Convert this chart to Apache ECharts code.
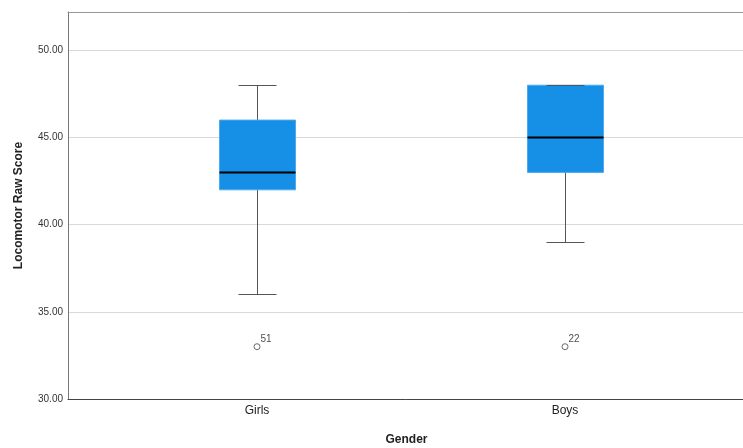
<!DOCTYPE html>
<html>
<head>
<meta charset="utf-8">
<script src="https://cdn.jsdelivr.net/npm/echarts@6/dist/echarts.min.js"></script>
<style>html,body{margin:0;padding:0;background:#fff;}#c{width:743px;height:448px;}</style>
</head>
<body>
<div id="c"></div>
<script>
const categories = ['Girls', 'Boys'];
const mins = [36, 39];
const q1s = [42, 43];
const medians = [43, 45];
const q3s = [46, 48];
const maxs = [48, 48];
const outlierValues = [33, 33];
const outlierLabels = ['51', '22'];
const yMin = 30, yMax = 52.2, yStep = 5;

const FONT = "'Liberation Sans', Arial, sans-serif";
const boxData = categories.map((c, i) => [i, mins[i], q1s[i], medians[i], q3s[i], maxs[i]]);
const outData = categories.map((c, i) => [i, outlierValues[i], outlierLabels[i]]);

const chart = echarts.init(document.getElementById('c'));
chart.setOption({
  animation: false,
  textStyle: { fontFamily: FONT },
  grid: [
    { left: 68, right: -2, top: 12, bottom: 49, outerBoundsMode: 'none', containLabel: false },
    { left: 103, right: 24, top: 12, bottom: 49, outerBoundsMode: 'none', containLabel: false }
  ],
  xAxis: [
    { gridIndex: 0, type: 'value', min: 0, max: 1, position: 'bottom',
      axisLine: { show: true, lineStyle: { color: '#444', width: 1 } },
      axisTick: { show: false }, axisLabel: { show: false }, splitLine: { show: false },
      name: 'Gender', nameLocation: 'middle', nameGap: 35,
      nameTextStyle: { fontSize: 12, fontWeight: 'bold', color: '#222', fontFamily: FONT } },
    { gridIndex: 0, type: 'value', min: 0, max: 1, position: 'top',
      axisLine: { show: true, lineStyle: { color: '#999', width: 1 } },
      axisTick: { show: false }, axisLabel: { show: false }, splitLine: { show: false } },
    { gridIndex: 1, type: 'category', data: categories, position: 'bottom',
      axisLine: { show: false }, axisTick: { show: false },
      axisLabel: { fontSize: 12, color: '#222', margin: 6, fontFamily: FONT } }
  ],
  yAxis: [
    { gridIndex: 0, type: 'value', min: yMin, max: yMax, interval: yStep,
      axisLine: { show: true, lineStyle: { color: '#777', width: 1 } },
      axisTick: { show: false },
      axisLabel: { fontSize: 10, color: '#333', margin: 5, showMaxLabel: false,
        formatter: v => v.toFixed(2), fontFamily: FONT },
      splitLine: { show: true, lineStyle: { color: '#d9d9d9', width: 1 } },
      name: 'Locomotor Raw Score', nameLocation: 'middle', nameGap: 43,
      nameTextStyle: { fontSize: 12, fontWeight: 'bold', color: '#222', fontFamily: FONT } },
    { gridIndex: 1, type: 'value', min: yMin, max: yMax, interval: yStep,
      axisLine: { show: false }, axisTick: { show: false }, axisLabel: { show: false },
      splitLine: { show: false } }
  ],
  series: [
    {
      type: 'custom', xAxisIndex: 2, yAxisIndex: 1,
      data: boxData,
      encode: { x: 0, y: [1, 2, 3, 4, 5] },
      renderItem: function (params, api) {
        const i = api.value(0);
        const py = v => api.coord([i, v])[1];
        const x = Math.round(api.coord([i, api.value(1)])[0]) + 0.5;
        const yMn = Math.round(py(api.value(1))) + 0.5;
        const yQ1 = py(api.value(2));
        const yMd = py(api.value(3));
        const yQ3 = py(api.value(4));
        const yMx = Math.round(py(api.value(5))) + 0.5;
        const hw = 38, cw = 19;
        const ws = { stroke: '#555', lineWidth: 1 };
        return {
          type: 'group',
          children: [
            { type: 'line', shape: { x1: x, y1: yQ3, x2: x, y2: yMx }, style: ws },
            { type: 'line', shape: { x1: x, y1: yQ1, x2: x, y2: yMn }, style: ws },
            { type: 'rect', shape: { x: x - hw, y: yQ3, width: 2 * hw, height: yQ1 - yQ3 },
              style: { fill: '#1590e6', stroke: '#4ea9ee', lineWidth: 1 } },
            { type: 'line', shape: { x1: x - hw, y1: yMd, x2: x + hw, y2: yMd },
              style: { stroke: '#000', lineWidth: 2 } },
            { type: 'line', shape: { x1: x - cw, y1: yMx, x2: x + cw, y2: yMx }, style: ws },
            { type: 'line', shape: { x1: x - cw, y1: yMn, x2: x + cw, y2: yMn }, style: ws }
          ]
        };
      }
    },
    {
      type: 'scatter', xAxisIndex: 2, yAxisIndex: 1,
      data: outData,
      symbol: 'circle', symbolSize: 6,
      itemStyle: { color: '#fff', borderColor: '#333', borderWidth: 0.9 },
      label: { show: true, position: 'right', distance: 0, offset: [0, -7],
        formatter: p => p.value[2], fontSize: 10, color: '#222', fontFamily: FONT }
    }
  ]
});
</script>
</body>
</html>
